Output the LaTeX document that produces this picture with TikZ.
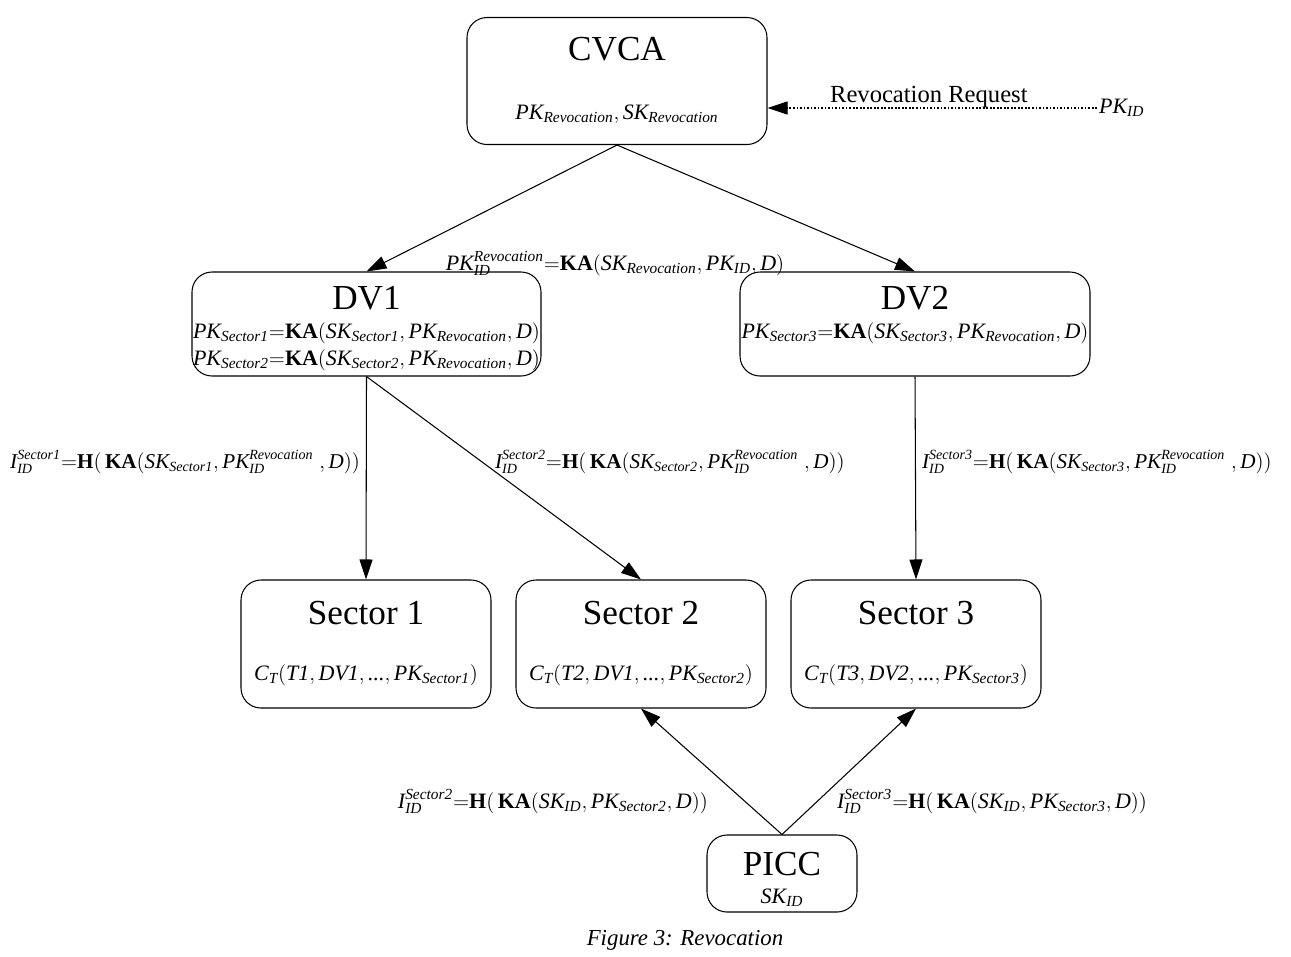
\documentclass[tikz,border=0pt]{standalone}
\usepackage{amsmath}
\usepackage{fontspec}
\setmainfont{Liberation Serif}
\usetikzlibrary{arrows.meta}
\newcommand{\ti}[1]{\textit{#1}}
\newcommand{\KA}{\textbf{KA}}
\newcommand{\HH}{\textbf{H}}
\newcommand{\eqs}{\mathord{=}}

\begin{document}
\begin{tikzpicture}[x=0.2mm,y=-0.2mm]
  \tikzset{box/.style={draw, rounded corners=4mm, inner sep=0, line width=0.6pt},
    ttl/.style={anchor=base, inner sep=1pt, font=\fontsize{20}{24}\selectfont},
    frm/.style={anchor=base, inner sep=1pt, font=\fontsize{12.5}{15}\selectfont},
    lbl/.style={inner sep=1pt, font=\fontsize{12}{15}\selectfont},
    arr/.style={-{Triangle[length=4mm,width=2.6mm]}, line width=0.6pt}}
  \useasboundingbox (0,0) rectangle (1291,956);
  % boxes
  \node[box, minimum width=60mm, minimum height=25.4mm] (cvca) at (617,81) {};
  \node[box, minimum width=69.8mm, minimum height=20.8mm] (dv1) at (366.5,324) {};
  \node[box, minimum width=70mm, minimum height=20.8mm] (dv2) at (915,324) {};
  \node[box, minimum width=50mm, minimum height=25.6mm] (sec1) at (366,644) {};
  \node[box, minimum width=50mm, minimum height=25.6mm] (sec2) at (641,644) {};
  \node[box, minimum width=50mm, minimum height=25.6mm] (sec3) at (916,644) {};
  \node[box, minimum width=30mm, minimum height=15.4mm] (picc) at (782,873.5) {};
  % box texts
  \node[ttl] (cvcat) at (617,60) {CVCA};
  \node[frm] (cvcaf) at (617,119) {$\ti{PK}_{\ti{Revocation}},\ti{SK}_{\ti{Revocation}}$};
  \node[ttl] (dv1t) at (366.5,309) {DV1};
  \node[frm] (dv1a) at (366.5,338) {$\ti{PK}_{\ti{Sector1}}\eqs\KA(\ti{SK}_{\ti{Sector1}},\ti{PK}_{\ti{Revocation}},\ti{D})$};
  \node[frm] (dv1b) at (366.5,365) {$\ti{PK}_{\ti{Sector2}}\eqs\KA(\ti{SK}_{\ti{Sector2}},\ti{PK}_{\ti{Revocation}},\ti{D})$};
  \node[ttl] (dv2t) at (915,309) {DV2};
  \node[frm] (dv2a) at (915,338) {$\ti{PK}_{\ti{Sector3}}\eqs\KA(\ti{SK}_{\ti{Sector3}},\ti{PK}_{\ti{Revocation}},\ti{D})$};
  \node[ttl] (sec1t) at (366,624) {Sector 1};
  \node[frm] (sec1f) at (366,680) {$\ti{C}_{\ti{T}}(\ti{T1},\ti{DV1},\ti{...},\ti{PK}_{\ti{Sector1}})$};
  \node[ttl] (sec2t) at (641,624) {Sector 2};
  \node[frm] (sec2f) at (641,680) {$\ti{C}_{\ti{T}}(\ti{T2},\ti{DV1},\ti{...},\ti{PK}_{\ti{Sector2}})$};
  \node[ttl] (sec3t) at (916,624) {Sector 3};
  \node[frm] (sec3f) at (916,680) {$\ti{C}_{\ti{T}}(\ti{T3},\ti{DV2},\ti{...},\ti{PK}_{\ti{Sector3}})$};
  \node[ttl] (picct) at (782,875) {PICC};
  \node[frm] (piccf) at (782,903) {$\ti{SK}_{\ti{ID}}$};
  % request
  \node[frm, anchor=west] (pkid) at (1097,108) {$\ti{PK}_{\ti{ID}}$};
  \node[anchor=base west, inner sep=1pt, font=\fontsize{14}{16}\selectfont] (req) at (828,102) {Revocation Request};
  \draw[arr, dash pattern=on 1pt off 1pt] (pkid.west) -- (pkid.west -| cvca.east);
  % arrows
  \draw[arr] (cvca.south) -- (dv1.north);
  \draw[arr] (cvca.south) -- (dv2.north);
  \draw[arr] (dv1.south) -- (sec1.north);
  \draw[arr] (dv1.south) -- (sec2.north);
  \draw[arr] (dv2.south) -- (sec3.north);
  \draw[arr] (picc.north) -- (sec2.south);
  \draw[arr] (picc.north) -- (sec3.south);
  % arrow labels
  \node[frm] (lrev) at (615,270) {$\ti{PK}^{\ti{Revocation}}_{\ti{ID}}\eqs\KA(\ti{SK}_{\ti{Revocation}},\ti{PK}_{\ti{ID}},\ti{D})$};
  \node[lbl, anchor=base east] (li1) at (362,468) {$\ti{I}^{\ti{Sector1}}_{\ti{ID}}\eqs\HH(\,\KA(\ti{SK}_{\ti{Sector1}},\ti{PK}^{\ti{Revocation}}_{\ti{ID}}\;,\ti{D}))$};
  \node[lbl, anchor=base west] (li2) at (493,468) {$\ti{I}^{\ti{Sector2}}_{\ti{ID}}\eqs\HH(\,\KA(\ti{SK}_{\ti{Sector2}},\ti{PK}^{\ti{Revocation}}_{\ti{ID}}\;,\ti{D}))$};
  \node[lbl, anchor=base west] (li3) at (920,468) {$\ti{I}^{\ti{Sector3}}_{\ti{ID}}\eqs\HH(\,\KA(\ti{SK}_{\ti{Sector3}},\ti{PK}^{\ti{Revocation}}_{\ti{ID}}\;,\ti{D}))$};
  \node[frm, anchor=base east] (lp2) at (710,808) {$\ti{I}^{\ti{Sector2}}_{\ti{ID}}\eqs\HH(\,\KA(\ti{SK}_{\ti{ID}},\ti{PK}_{\ti{Sector2}},\ti{D}))$};
  \node[frm, anchor=base west] (lp3) at (835,808) {$\ti{I}^{\ti{Sector3}}_{\ti{ID}}\eqs\HH(\,\KA(\ti{SK}_{\ti{ID}},\ti{PK}_{\ti{Sector3}},\ti{D}))$};
  % caption
  \node[frm, font=\fontsize{13}{16}\selectfont\itshape] (cap) at (685,945) {Figure 3: Revocation};
\end{tikzpicture}
\end{document}
